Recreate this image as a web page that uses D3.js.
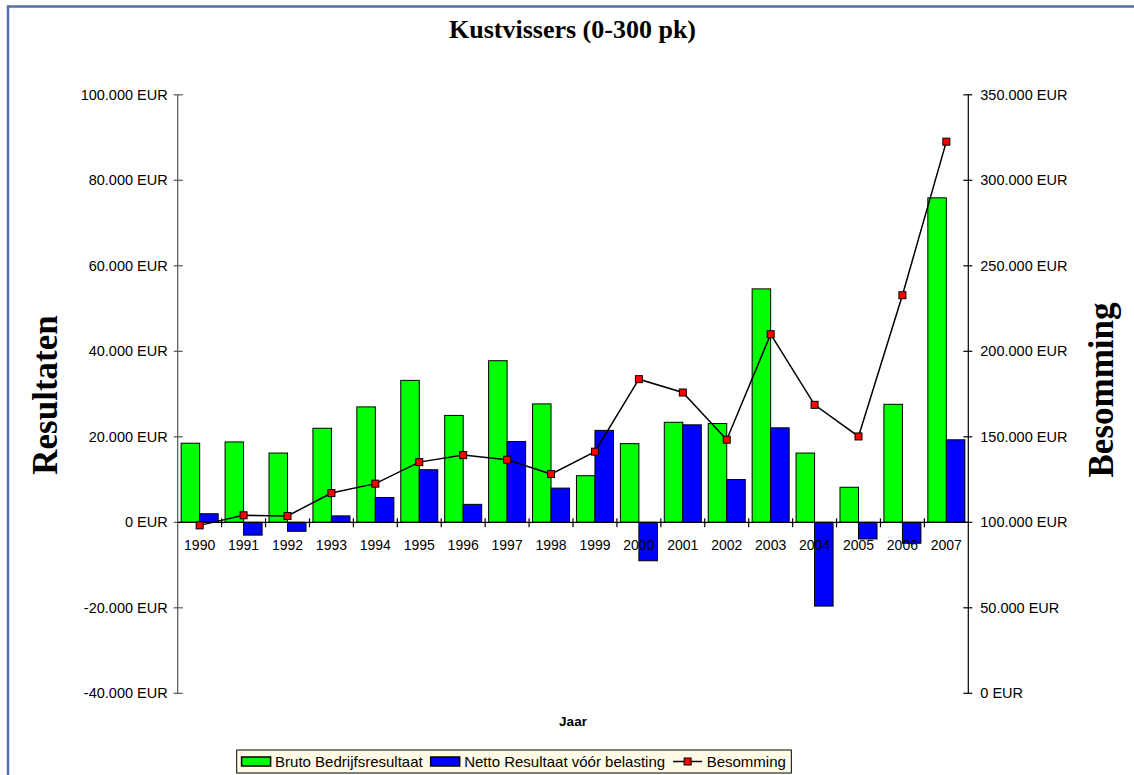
<!DOCTYPE html>
<html>
<head>
<meta charset="utf-8">
<script src="https://cdn.jsdelivr.net/npm/d3@7"></script>
<style>
  body { margin: 0; background: #fff; }
  .axis-label { font-family: "Liberation Sans", Arial, sans-serif; font-size: 14.5px; fill: #000; }
  .year-label { font-family: "Liberation Sans", Arial, sans-serif; font-size: 14px; fill: #000; }
  .legend text { font-family: "Liberation Sans", Arial, sans-serif; font-size: 15px; fill: #000; }
  .title { font-family: "Liberation Serif", "Times New Roman", serif; font-weight: bold; }
</style>
</head>
<body>
<div class="chart"></div>
<script>
var years = ["1990", "1991", "1992", "1993", "1994", "1995", "1996", "1997", "1998", "1999",
             "2000", "2001", "2002", "2003", "2004", "2005", "2006", "2007"];
var bruto = [18500, 18800, 16200, 22000, 27000, 33200, 25000, 37800, 27700, 10900,
             18400, 23400, 23100, 54600, 16200, 8200, 27600, 75900];
var netto = [2000, -3000, -2100, 1500, 5800, 12300, 4200, 18900, 8000, 21500,
             -9000, 22800, 10000, 22100, -19600, -3900, -4900, 19300];
var besomming = [98200, 104100, 103700, 117100, 122600, 135200, 139300, 136600, 128200, 141300,
                 183700, 175900, 148300, 210000, 168700, 150200, 232800, 322600];
var leftTicks = [-40000, -20000, 0, 20000, 40000, 60000, 80000, 100000];
var rightTicks = [0, 50000, 100000, 150000, 200000, 250000, 300000, 350000];
var seriesNames = ["Bruto Bedrijfsresultaat", "Netto Resultaat vóór belasting", "Besomming"];

var width = 1134, height = 775;
var plotLeft = 177.7, plotRight = 968.3, plotTop = 94.8, plotBottom = 693.3;
var colors = { bruto: "#00ff00", netto: "#0000ff", marker: "#ff0000" };

var locale = d3.formatLocale({ decimal: ",", thousands: ".", grouping: [3], currency: ["", ""], minus: "-" });
var fmt = locale.format(",.0f");
function eur(d) { return fmt(d) + " EUR"; }

var svg = d3.select(".chart").append("svg")
  .attr("width", width)
  .attr("height", height);

// frame
svg.append("rect")
  .attr("x", 8).attr("y", 6.5)
  .attr("width", width + 20).attr("height", height + 20)
  .attr("fill", "#fff")
  .attr("stroke", "#4f6fae")
  .attr("stroke-width", 2.5);

svg.append("text")
  .attr("class", "title")
  .attr("x", 572.5).attr("y", 38)
  .attr("text-anchor", "middle")
  .style("font-size", "26px")
  .text("Kustvissers (0-300 pk)");

var x = d3.scaleBand().domain(years).range([plotLeft, plotRight]).padding(0);
var gap = 3.45;
var x1 = d3.scaleBand().domain(["bruto", "netto"]).range([gap, x.bandwidth() - gap]).padding(0);
var yL = d3.scaleLinear().domain([-40000, 100000]).range([plotBottom, plotTop]);
var yR = d3.scaleLinear().domain([0, 350000]).range([plotBottom, plotTop]);

var rows = years.map(function(y, i) {
  return { year: y, bruto: bruto[i], netto: netto[i], besomming: besomming[i] };
});

// bars
var groups = svg.selectAll(".yr")
  .data(rows)
  .enter().append("g")
    .attr("class", "yr")
    .attr("transform", function(d) { return "translate(" + x(d.year) + ",0)"; });

groups.selectAll("rect")
  .data(function(d) { return [{ k: "bruto", v: d.bruto }, { k: "netto", v: d.netto }]; })
  .enter().append("rect")
    .attr("x", function(d) { return x1(d.k); })
    .attr("width", x1.bandwidth())
    .attr("y", function(d) { return yL(Math.max(0, d.v)); })
    .attr("height", function(d) { return Math.abs(yL(d.v) - yL(0)); })
    .attr("fill", function(d) { return colors[d.k]; })
    .attr("stroke", "#000")
    .attr("stroke-width", 1);

// left axis
var leftAxis = svg.append("g").attr("transform", "translate(" + plotLeft + ",0)");
leftAxis.append("line")
  .attr("y1", plotTop).attr("y2", plotBottom)
  .attr("stroke", "#555").attr("stroke-width", 1.2);
leftAxis.selectAll(".tk").data(leftTicks).enter().append("line")
  .attr("x1", -4).attr("x2", 5)
  .attr("y1", function(d) { return yL(d); }).attr("y2", function(d) { return yL(d); })
  .attr("stroke", "#555").attr("stroke-width", 1.2);
leftAxis.selectAll(".axis-label").data(leftTicks).enter().append("text")
  .attr("class", "axis-label")
  .attr("x", -10)
  .attr("y", function(d) { return yL(d); })
  .attr("dy", "0.35em")
  .attr("text-anchor", "end")
  .text(eur);

// right axis
var rightAxis = svg.append("g").attr("transform", "translate(" + plotRight + ",0)");
rightAxis.append("line")
  .attr("y1", plotTop).attr("y2", plotBottom)
  .attr("stroke", "#000").attr("stroke-width", 1.2);
rightAxis.selectAll(".tk").data(rightTicks).enter().append("line")
  .attr("x1", -5).attr("x2", 4)
  .attr("y1", function(d) { return yR(d); }).attr("y2", function(d) { return yR(d); })
  .attr("stroke", "#000").attr("stroke-width", 1.2);
rightAxis.selectAll(".axis-label").data(rightTicks).enter().append("text")
  .attr("class", "axis-label")
  .attr("x", 12)
  .attr("y", function(d) { return yR(d); })
  .attr("dy", "0.35em")
  .text(eur);

// x axis at zero
var zeroY = yL(0);
svg.append("line")
  .attr("x1", plotLeft).attr("x2", plotRight)
  .attr("y1", zeroY).attr("y2", zeroY)
  .attr("stroke", "#000").attr("stroke-width", 1.2);
svg.selectAll(".xtick")
  .data(years.slice(1))
  .enter().append("line")
    .attr("class", "xtick")
    .attr("x1", function(d) { return x(d); }).attr("x2", function(d) { return x(d); })
    .attr("y1", zeroY - 4).attr("y2", zeroY + 5)
    .attr("stroke", "#000").attr("stroke-width", 1.2);
svg.selectAll(".year-label")
  .data(years)
  .enter().append("text")
    .attr("class", "year-label")
    .attr("x", function(d) { return x(d) + x.bandwidth() / 2; })
    .attr("y", 550)
    .attr("text-anchor", "middle")
    .text(function(d) { return d; });

// besomming line
var line = d3.line()
  .x(function(d) { return x(d.year) + x.bandwidth() / 2; })
  .y(function(d) { return yR(d.besomming); });
svg.append("path")
  .datum(rows)
  .attr("d", line)
  .attr("fill", "none")
  .attr("stroke", "#000")
  .attr("stroke-width", 1.5);
svg.selectAll(".marker")
  .data(rows)
  .enter().append("rect")
    .attr("class", "marker")
    .attr("x", function(d) { return x(d.year) + x.bandwidth() / 2 - 3.5; })
    .attr("y", function(d) { return yR(d.besomming) - 3.5; })
    .attr("width", 7).attr("height", 7)
    .attr("fill", colors.marker)
    .attr("stroke", "#000").attr("stroke-width", 1);

// axis titles
svg.append("text")
  .attr("x", (plotLeft + plotRight) / 2).attr("y", 726)
  .attr("text-anchor", "middle")
  .style("font-family", "'Liberation Sans', Arial, sans-serif")
  .style("font-weight", "bold")
  .style("font-size", "13.5px")
  .text("Jaar");
svg.append("text")
  .attr("class", "title")
  .attr("transform", "translate(57,395) rotate(-90)")
  .attr("text-anchor", "middle")
  .style("font-size", "35px")
  .text("Resultaten");
svg.append("text")
  .attr("class", "title")
  .attr("transform", "translate(1113,390) rotate(-90)")
  .attr("text-anchor", "middle")
  .style("font-size", "35px")
  .text("Besomming");

// legend
var legend = svg.append("g").attr("class", "legend");
var legendBox = legend.append("rect")
  .attr("y", 750).attr("height", 23)
  .attr("fill", "#fffbe6")
  .attr("stroke", "#000").attr("stroke-width", 1);
var lx = 241.6, ly = 761.5;
seriesNames.forEach(function(name, i) {
  if (i < 2) {
    legend.append("rect")
      .attr("x", lx).attr("y", ly - 4.5)
      .attr("width", 29).attr("height", 9)
      .attr("fill", i === 0 ? colors.bruto : colors.netto)
      .attr("stroke", "#000").attr("stroke-width", 1.5);
  } else {
    legend.append("line")
      .attr("x1", lx).attr("x2", lx + 29)
      .attr("y1", ly).attr("y2", ly)
      .attr("stroke", "#000").attr("stroke-width", 1.5);
    legend.append("rect")
      .attr("x", lx + 14.5 - 3.5).attr("y", ly - 3.5)
      .attr("width", 7).attr("height", 7)
      .attr("fill", colors.marker)
      .attr("stroke", "#000").attr("stroke-width", 1);
  }
  var t = legend.append("text")
    .attr("x", lx + 33.5).attr("y", ly)
    .attr("dy", "0.35em")
    .text(name);
  lx = lx + 33.5 + t.node().getComputedTextLength() + 8;
});
legendBox.attr("x", 236.7).attr("width", lx - 8 + 5.5 - 236.7);
</script>
</body>
</html>
